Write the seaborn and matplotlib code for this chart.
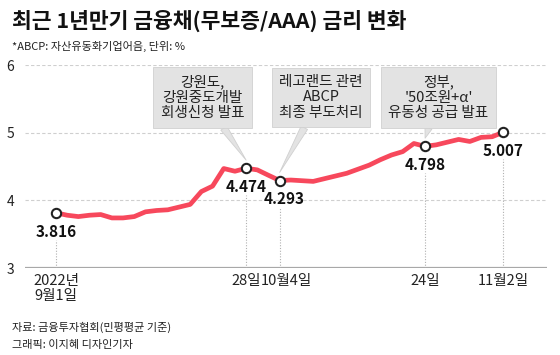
import matplotlib.pyplot as plt
import seaborn as sns
import pandas as pd
from matplotlib import transforms

# 1-year financial bond (unsecured/AAA) yield, trading days 2022-09-01 .. 2022-11-02
rates = [3.816, 3.78, 3.76, 3.78, 3.79, 3.74, 3.74, 3.76, 3.83, 3.85,
         3.86, 3.90, 3.94, 4.13, 4.21, 4.47, 4.43, 4.474, 4.45, 4.37,
         4.293, 4.30, 4.29, 4.28, 4.32, 4.36, 4.40, 4.46, 4.52, 4.60,
         4.67, 4.72, 4.84, 4.798, 4.82, 4.86, 4.90, 4.87, 4.93, 4.94, 5.007]

key_idx = [0, 17, 20, 33, 40]
key_labels = ['3.816', '4.474', '4.293', '4.798', '5.007']
tick_labels = ['2022년\n9월1일', '28일', '10월4일', '24일', '11월2일']

event_idx = [17, 20, 33]
event_text = ['강원도,\n강원중도개발\n회생신청 발표',
              '레고랜드 관련\nABCP\n최종 부도처리',
              "정부,\n'50조원+α'\n유동성 공급 발표"]
event_box_x = [13.1, 23.7, 34.2]

df = pd.DataFrame({'day': range(len(rates)), 'rate': rates})
key_df = df.iloc[key_idx]

sns.set_theme(style='white')
FONT = ['Liberation Sans Narrow', 'Noto Sans CJK KR', 'DejaVu Sans']
KR = ['Noto Sans CJK KR', 'DejaVu Sans']
plt.rcParams['font.family'] = FONT

LINE = '#f7485c'
GRID = '#cfcfcf'
BOX = '#e3e3e3'

fig = plt.figure(figsize=(5.6, 3.55), dpi=100, facecolor='white')
ax = fig.add_axes([25 / 560, 1 - 268 / 355, 522 / 560, 203 / 355])

ax.set_xlim(-2.77, 43.9)
ax.set_ylim(3, 6)

for y in [4, 5, 6]:
    ax.axhline(y, color=GRID, lw=0.8, ls=(0, (3, 2)), zorder=0)
ax.axhline(3, color='#a8a8a8', lw=1.6, zorder=1)

# dotted drop lines under the value labels
for i in key_idx:
    ax.vlines(i, 3, rates[i] - 0.4, color='#b0b0b0', lw=0.8, ls=(0, (1, 1.5)), zorder=1)

sns.lineplot(data=df, x='day', y='rate', color=LINE, lw=3.4, ax=ax, zorder=3)
sns.scatterplot(data=key_df, x='day', y='rate', s=45, color='white',
                edgecolor='#222222', linewidth=1.5, ax=ax, zorder=4)

offsets = {20: 4}
for i, lab in zip(key_idx, key_labels):
    ax.annotate(lab, (i, rates[i]), xytext=(offsets.get(i, 0) * 0.72, -13.5),
                textcoords='offset points', ha='center', va='center',
                fontsize=11, fontweight='bold', color='#111111',
                family=FONT, zorder=5)

# callout boxes
for i, txt, bx in zip(event_idx, event_text, event_box_x):
    ax.annotate(txt, xy=(i, rates[i] + 0.12), xytext=(bx, 5.52),
                ha='center', va='center', fontsize=10.5, color='#222222',
                family=KR, linespacing=1.15, zorder=6,
                bbox=dict(boxstyle='square,pad=0.5', fc=BOX, ec='#d0d0d0', lw=0.6),
                arrowprops=dict(arrowstyle='wedge,tail_width=0.5,shrink_factor=0.5',
                                fc=BOX, ec='#d0d0d0', lw=0.6, shrinkA=0, shrinkB=0))

ax.set_yticks([3, 4, 5, 6])
ax.set_yticklabels(['3', '4', '5', '6'], fontsize=10, color='#222222')
ax.tick_params(axis='y', length=0, pad=8)
ax.set_xticks(key_idx)
ax.set_xticklabels(tick_labels, fontsize=10.5, color='#222222', linespacing=1.15)
ax.tick_params(axis='x', length=0, pad=4)
for lab in ax.get_xticklabels():
    lab.set_family(FONT)
# nudge the crowded "10월4일" label right
shift = transforms.ScaledTranslation(7 / 100, 0, fig.dpi_scale_trans)
ax.get_xticklabels()[2].set_transform(ax.get_xticklabels()[2].get_transform() + shift)

ax.set_xlabel('')
ax.set_ylabel('')
for s in ax.spines.values():
    s.set_visible(False)

fig.text(12 / 560, 1 - 21 / 355, '최근 1년만기 금융채(무보증/AAA) 금리 변화',
         fontsize=15.5, fontweight='bold', family=KR, va='center', color='#111111')
fig.text(12 / 560, 1 - 46 / 355, '*ABCP: 자산유동화기업어음, 단위: %',
         fontsize=8, family=KR, va='center', color='#222222')
fig.text(12 / 560, 1 - 327 / 355, '자료: 금융투자협회(민평평균 기준)',
         fontsize=8, family=KR, va='center', color='#222222')
fig.text(12 / 560, 1 - 345 / 355, '그래픽: 이지혜 디자인기자',
         fontsize=8, family=KR, va='center', color='#222222')

fig.savefig('out.png', dpi=100, facecolor='white')
